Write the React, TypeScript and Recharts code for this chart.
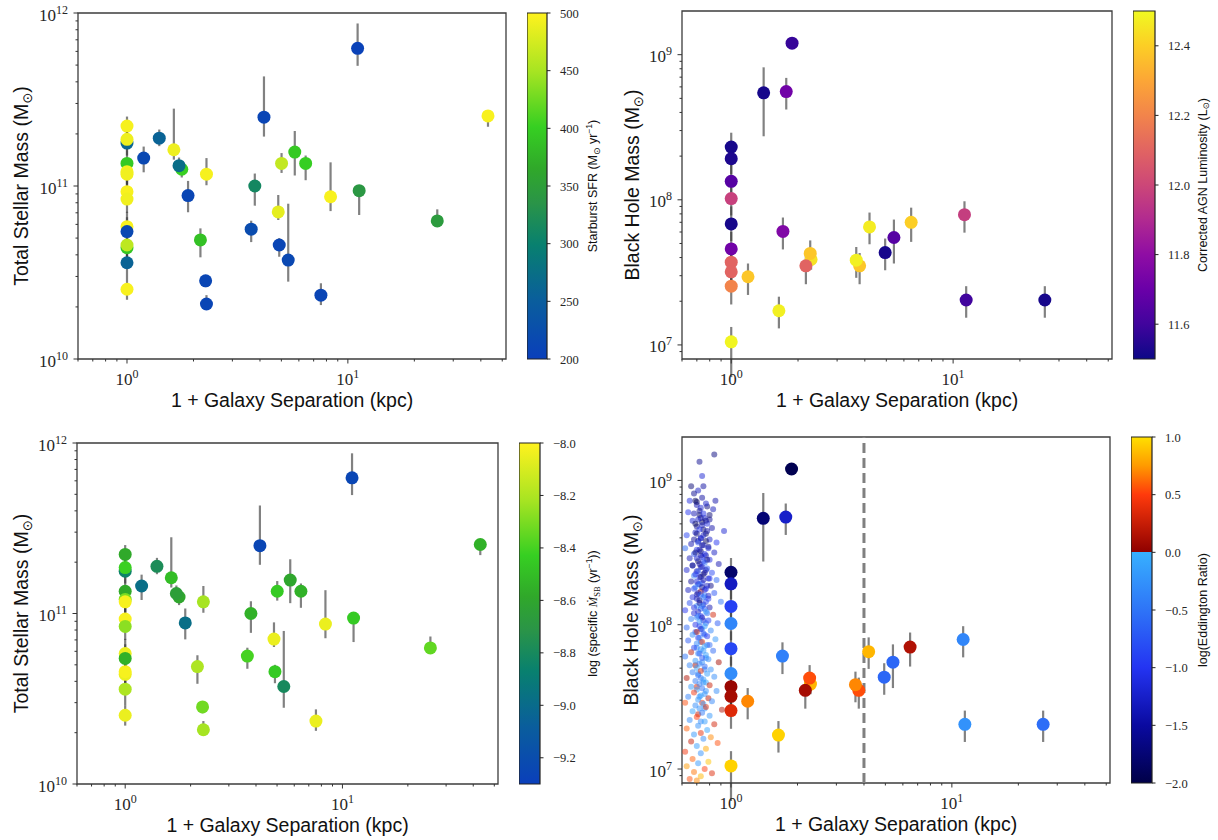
import React from "react"
import {
  ScatterChart,
  Scatter,
  XAxis,
  YAxis,
  ErrorBar,
  ReferenceArea,
  ReferenceLine,
} from "recharts"

// ---------- merging hosts: 1 + projected separation (kpc) and stellar mass ----------
const sepKpc = [
  11.07, 4.17, 1, 1, 1, 1.4, 1.19, 1.63, 1, 1, 1, 1.77, 1.72, 2.29, 1, 1, 1.89, 3.79, 5.01, 5.75,
  6.44, 8.35, 11.25, 4.84, 1, 1, 1, 1, 1, 1, 2.15, 2.27, 2.29, 3.65, 4.89, 5.37, 7.55, 25.4, 43.1,
]
const stellarMass = [
  6.25e11, 2.5e11, 2.22e11, 1.77e11, 1.86e11, 1.89e11, 1.45e11, 1.62e11, 1.35e11, 1.21e11, 1.17e11,
  1.25e11, 1.31e11, 1.17e11, 9.27e10, 8.4e10, 8.8e10, 1.0e11, 1.35e11, 1.57e11, 1.35e11, 8.67e10,
  9.4e10, 7.08e10, 5.82e10, 5.45e10, 4.4e10, 4.56e10, 3.6e10, 2.53e10, 4.88e10, 2.83e10, 2.08e10,
  5.63e10, 4.56e10, 3.73e10, 2.34e10, 6.28e10, 2.54e11,
]
const stellarMassLo = [
  4.95e11, 1.93e11, 1.95e11, 1.5e11, 1.6e11, 1.7e11, 1.2e11, 1.42e11, 1.15e11, 1.02e11, 0.98e11,
  1.12e11, 1.2e11, 1.01e11, 7.8e10, 7.0e10, 7.05e10, 7.7e10, 1.19e11, 1.15e11, 1.08e11, 7.16e10,
  6.8e10, 6.36e10, 4.9e10, 4.5e10, 3.7e10, 3.8e10, 2.9e10, 2.2e10, 3.87e10, 2.6e10, 1.95e10,
  4.74e10, 3.9e10, 2.8e10, 2.05e10, 6.28e10, 2.2e11,
]
const stellarMassHi = [
  8.7e11, 4.3e11, 2.52e11, 2.05e11, 2.15e11, 2.12e11, 1.69e11, 2.8e11, 1.6e11, 1.42e11, 1.38e11,
  1.38e11, 1.46e11, 1.45e11, 1.1e11, 1.0e11, 1.07e11, 1.18e11, 1.55e11, 2.08e11, 1.5e11, 1.37e11,
  1.0e11, 8.87e10, 7.1e10, 6.6e10, 5.2e10, 5.4e10, 4.3e10, 2.9e10, 5.69e10, 3.05e10, 2.34e10,
  6.3e10, 5.0e10, 7.9e10, 2.74e10, 7.33e10, 2.54e11,
]
// starburst SFR (Msun/yr)
const starburstSfr = [
  205, 210, 495, 262, 490, 258, 215, 490, 395, 495, 492, 402, 272, 495, 496, 492, 212, 312, 465, 395,
  400, 496, 340, 485, 496, 215, 392, 462, 258, 496, 388, 212, 210, 222, 210, 215, 210, 345, 496,
]
// log specific starburst mass growth (1/yr)
const specificSfr = [
  -9.25, -9.25, -8.58, -8.85, -8.42, -8.78, -8.98, -8.5, -8.58, -8.3, -8.02, -8.6, -8.65, -8.22,
  -8.02, -8.27, -8.98, -8.55, -8.45, -8.6, -8.55, -8.05, -8.45, -8.05, -8.05, -8.55, -8.05, -8.02,
  -8.2, -8.05, -8.2, -8.32, -8.22, -8.4, -8.45, -8.8, -8.05, -8.35, -8.55,
]

// ---------- black holes in the same systems ----------
const bhSep = [
  1.88, 1.4, 1.77, 1, 1, 1, 1, 1, 1, 1, 1, 1, 1, 1.19, 1.64, 1.71, 2.29, 2.27, 2.17, 3.79, 3.66, 4.2,
  4.94, 5.41, 6.47, 11.25, 11.45, 25.9,
]
const bhMass = [
  1.2e9, 5.46e8, 5.57e8, 2.31e8, 1.92e8, 1.34e8, 1.02e8, 6.82e7, 4.59e7, 3.72e7, 3.19e7, 2.54e7,
  1.05e7, 2.95e7, 1.72e7, 6.06e7, 3.88e7, 4.27e7, 3.51e7, 3.51e7, 3.84e7, 6.5e7, 4.33e7, 5.5e7, 7.0e7,
  7.9e7, 2.04e7, 2.04e7,
]
const bhMassLo = [
  1.2e9, 2.74e8, 4.19e8, 1.85e8, 1.5e8, 1.02e8, 7.8e7, 5.2e7, 3.5e7, 2.8e7, 2.4e7, 1.9e7, 6.0e6,
  2.21e7, 1.3e7, 4.55e7, 3.3e7, 3.5e7, 2.62e7, 2.62e7, 2.9e7, 4.94e7, 3.27e7, 3.64e7, 5.13e7, 5.94e7,
  1.54e7, 1.54e7,
]
const bhMassHi = [
  1.2e9, 8.18e8, 6.92e8, 2.9e8, 2.45e8, 1.75e8, 1.35e8, 9.0e7, 6.0e7, 4.9e7, 4.2e7, 3.4e7, 1.33e7,
  3.64e7, 2.15e7, 7.55e7, 4.4e7, 5.25e7, 4.27e7, 4.3e7, 4.73e7, 8.17e7, 5.41e7, 7.31e7, 8.83e7, 9.77e7,
  2.54e7, 2.54e7,
]
// log corrected AGN luminosity (Lsun)
const agnLum = [
  11.58, 11.52, 11.72, 11.52, 11.53, 11.65, 11.98, 11.52, 11.72, 12.1, 12.1, 12.2, 12.49, 12.38,
  12.48, 11.76, 12.45, 12.38, 12.1, 12.38, 12.48, 12.47, 11.52, 11.65, 12.4, 11.97, 11.6, 11.52,
]
const eddRatio = [
  -1.95, -1.75, -1.25, -1.8, -1.3, -0.9, -0.35, -0.85, -0.3, 0.05, 0.1, 0.35, 0.95, 0.7, 0.95, -0.4,
  0.85, 0.55, 0.1, 0.55, 0.7, 0.85, -0.6, -0.6, 0.15, -0.35, -0.25, -0.55,
]

// comparison AGN sample, drawn left of 1 kpc: [1 + sep, log M_BH, log Eddington ratio]
const fieldHigh: [number, number, number][] = [
  [0.84, 9.18, -1.7], [0.72, 9.13, -1.6], [0.74, 9.03, -1.2], [0.66, 8.96, -1.75], [0.75, 8.96, -1.5],
  [0.71, 8.93, -1.3], [0.68, 8.91, -1.6], [0.65, 8.86, -1.1], [0.69, 8.86, -1.9], [0.85, 8.86, -1.45],
  [0.7, 8.83, -1.4], [0.78, 8.82, -1.7], [0.73, 8.81, -1.2], [0.83, 8.8, -1.35], [0.64, 8.78, -1.0],
  [0.72, 8.76, -1.8], [0.76, 8.74, -1.3], [0.8, 8.73, -1.55], [0.67, 8.72, -1.15], [0.74, 8.71, -1.9],
  [0.78, 8.7, -1.1], [0.7, 8.68, -1.6], [0.82, 8.67, -1.45], [0.75, 8.66, -1.75], [0.93, 8.65, -1.2],
  [0.69, 8.64, -1.3], [0.77, 8.63, -1.85], [0.63, 8.62, -0.9], [0.73, 8.6, -1.5], [0.8, 8.59, -1.25],
  [0.71, 8.58, -1.65], [0.86, 8.57, -1.0], [0.66, 8.56, -1.4], [0.75, 8.55, -1.2], [0.79, 8.54, -1.7],
  [0.62, 8.53, -0.6], [0.7, 8.52, -1.05], [0.73, 8.51, -1.8], [0.84, 8.5, -1.3], [0.68, 8.49, -0.8],
  [0.77, 8.48, -1.5], [0.74, 8.47, -0.95], [0.65, 8.46, -1.35], [0.8, 8.45, -1.1], [0.71, 8.44, -1.9],
  [0.76, 8.43, -0.5], [0.88, 8.42, -1.4], [0.67, 8.41, -1.0], [0.73, 8.4, -1.6], [0.78, 8.39, -0.7],
  [0.63, 8.38, -1.2], [0.7, 8.37, -1.45], [0.82, 8.36, -0.85], [0.75, 8.35, -1.75], [0.68, 8.34, -0.4],
  [0.72, 8.33, -1.1], [0.79, 8.32, -1.3], [0.86, 8.31, -0.6], [0.66, 8.3, -1.55], [0.74, 8.29, -0.9],
  [0.71, 8.28, -1.2], [0.81, 8.27, -1.65], [0.69, 8.26, -0.35], [0.77, 8.25, -1.0], [0.64, 8.24, -1.3],
  [0.73, 8.23, 0.2], [0.84, 8.22, -0.75], [0.7, 8.21, -1.5], [0.76, 8.2, -0.45], [0.67, 8.19, -1.1],
  [0.79, 8.18, -0.95], [0.72, 8.17, -1.7], [0.9, 8.16, -0.5], [0.65, 8.15, -0.8], [0.75, 8.14, -1.25],
  [0.7, 8.13, -0.3], [0.8, 8.12, -1.4], [0.73, 8.11, -0.65], [0.62, 8.1, -1.0],
]
// the crowded core of the comparison sample
const fieldCore: [number, number, number][] = [
  [0.74, 8.88, -1.5], [0.7, 8.85, -1.85], [0.77, 8.84, -1.25], [0.72, 8.79, -1.6], [0.68, 8.77, -1.4],
  [0.75, 8.77, -1.05], [0.8, 8.76, -1.75], [0.73, 8.74, -1.5], [0.71, 8.73, -1.25], [0.77, 8.72, -1.6],
  [0.69, 8.7, -1.9], [0.74, 8.69, -1.35], [0.72, 8.66, -1.0], [0.78, 8.65, -1.45], [0.7, 8.63, -1.7],
  [0.75, 8.62, -1.3], [0.73, 8.6, -1.15], [0.68, 8.59, -1.55], [0.77, 8.58, -1.85], [0.71, 8.57, -0.85],
  [0.74, 8.55, -1.6], [0.79, 8.53, -1.2], [0.72, 8.52, -1.4], [0.69, 8.5, -1.75], [0.76, 8.49, -1.05],
  [0.73, 8.48, -1.5], [0.7, 8.46, -1.25], [0.78, 8.45, -1.65], [0.75, 8.44, -0.9], [0.72, 8.42, -1.45],
  [0.67, 8.41, -1.8], [0.74, 8.4, -1.15], [0.77, 8.38, -1.35], [0.71, 8.37, -0.75], [0.76, 8.36, -1.55],
  [0.69, 8.35, -1.05], [0.73, 8.33, -1.7], [0.8, 8.32, -0.95], [0.75, 8.31, -1.4], [0.7, 8.3, -1.2],
  [0.72, 8.28, -0.55], [0.78, 8.27, -1.3], [0.74, 8.26, -1.6], [0.68, 8.25, -0.9], [0.76, 8.24, -1.15],
  [0.71, 8.22, -1.45], [0.73, 8.21, -0.7], [0.79, 8.2, -1.25], [0.75, 8.19, -0.5], [0.7, 8.18, -1.35],
  [0.77, 8.16, -0.85], [0.72, 8.15, -1.55], [0.74, 8.13, -0.4], [0.68, 8.12, -1.1], [0.76, 8.11, -0.75],
  [0.71, 8.09, -1.3], [0.78, 8.08, -0.6], [0.73, 8.06, -0.95], [0.7, 8.05, -0.3], [0.75, 8.03, -1.15],
  [0.77, 8.01, -0.5], [0.72, 7.99, -0.85], [0.74, 7.97, -0.35], [0.69, 7.95, -0.7], [0.76, 7.93, -0.45],
  [0.71, 7.91, -1.0], [0.73, 7.88, -0.3], [0.78, 7.86, -0.65], [0.7, 7.84, -0.4], [0.75, 7.82, -0.2],
  [0.72, 7.8, -0.75], [0.77, 7.77, -0.35], [0.74, 7.74, -0.25], [0.69, 7.72, 0.1], [0.76, 7.69, -0.4],
  [0.71, 7.66, -0.2], [0.73, 7.63, -0.5], [0.75, 7.6, -0.3], [0.7, 7.57, 0.3], [0.77, 7.54, -0.25],
  [0.72, 7.5, -0.35], [0.74, 7.46, 0.4], [0.76, 7.42, -0.2], [0.71, 7.38, 0.2], [0.73, 7.33, -0.3],
]
const fieldMid: [number, number, number][] = [
  [0.77, 8.09, -0.2], [0.68, 8.08, -1.15], [0.83, 8.07, 0.3], [0.71, 8.06, -0.55], [0.74, 8.05, -1.35],
  [0.66, 8.04, -0.4], [0.79, 8.03, -0.9], [0.72, 8.02, -0.25], [0.87, 8.01, -0.7], [0.69, 8.0, -1.05],
  [0.76, 7.99, -0.15], [0.63, 7.98, -0.6], [0.73, 7.97, -1.2], [0.81, 7.96, -0.35], [0.7, 7.95, 0.15],
  [0.75, 7.94, -0.8], [0.67, 7.93, -0.3], [0.78, 7.92, -1.0], [0.72, 7.91, -0.45], [0.85, 7.9, -0.2],
  [0.64, 7.89, -0.7], [0.74, 7.88, 0.4], [0.7, 7.87, -0.35], [0.8, 7.86, -0.55], [0.76, 7.85, -0.1],
  [0.68, 7.84, -0.9], [0.73, 7.83, -0.25], [0.83, 7.82, -0.6], [0.66, 7.81, 0.2], [0.71, 7.8, -0.4],
  [0.77, 7.79, -0.15], [0.62, 7.78, -0.5], [0.74, 7.77, -0.75], [0.79, 7.76, -0.3], [0.69, 7.75, -0.2],
  [0.88, 7.74, 0.1], [0.72, 7.73, -0.45], [0.65, 7.72, -0.35], [0.76, 7.71, -0.6], [0.7, 7.7, -0.1],
  [0.81, 7.69, -0.25], [0.73, 7.68, 0.35], [0.67, 7.67, -0.4], [0.78, 7.66, -0.15], [0.71, 7.65, -0.55],
  [0.84, 7.64, -0.3], [0.63, 7.63, 0.15], [0.75, 7.62, -0.2], [0.69, 7.61, -0.45], [0.77, 7.6, -0.1],
]
const fieldLow: [number, number, number][] = [
  [0.72, 7.59, -0.35], [0.8, 7.58, 0.25], [0.66, 7.57, -0.2], [0.74, 7.56, -0.5], [0.7, 7.55, -0.15],
  [0.86, 7.54, -0.3], [0.68, 7.53, 0.45], [0.76, 7.52, -0.25], [0.73, 7.51, -0.1], [0.64, 7.5, -0.4],
  [0.79, 7.49, 0.2], [0.71, 7.48, -0.2], [0.82, 7.47, -0.35], [0.62, 7.46, 0.55], [0.75, 7.45, -0.15],
  [0.69, 7.44, -0.3], [0.77, 7.43, 0.35], [0.72, 7.42, -0.25], [0.91, 7.41, 0.15], [0.67, 7.4, -0.1],
  [0.74, 7.39, -0.45], [0.8, 7.37, -0.2], [0.7, 7.36, 0.5], [0.65, 7.34, -0.3], [0.76, 7.33, -0.15],
  [0.84, 7.31, 0.3], [0.71, 7.3, -0.25], [0.63, 7.28, 0.6], [0.78, 7.27, -0.1], [0.73, 7.25, 0.4],
  [0.68, 7.24, -0.2], [0.81, 7.22, 0.7], [0.75, 7.21, -0.3], [0.66, 7.19, 0.25], [0.87, 7.18, 0.55],
  [0.7, 7.16, -0.15], [0.77, 7.14, 0.8], [0.62, 7.12, 0.45], [0.73, 7.11, -0.25], [0.67, 7.07, 0.6],
  [0.79, 7.05, 0.9], [0.71, 7.04, -0.2], [0.63, 7.02, 0.75], [0.76, 7.0, 0.5], [0.68, 6.98, 0.65],
  [0.82, 6.97, 0.35], [0.73, 6.95, 0.85], [0.65, 6.93, 0.55], [0.7, 6.92, 0.7],
]

// ---------- axes ----------
const SEP_DOMAIN: [number, number] = [0.6, 52]
const STELLAR_DOMAIN: [number, number] = [1e10, 1e12]
const BH_DOMAIN: [number, number] = [8e6, 2e9]
const sepTicks = [0.6, 0.7, 0.8, 0.9, 1, 2, 3, 4, 5, 6, 7, 8, 9, 10, 20, 30, 40, 50]
const stellarTicks = [
  1e10, 2e10, 3e10, 4e10, 5e10, 6e10, 7e10, 8e10, 9e10,
  1e11, 2e11, 3e11, 4e11, 5e11, 6e11, 7e11, 8e11, 9e11, 1e12,
]
const bhTicks = [
  9e6, 1e7, 2e7, 3e7, 4e7, 5e7, 6e7, 7e7, 8e7, 9e7,
  1e8, 2e8, 3e8, 4e8, 5e8, 6e8, 7e8, 8e8, 9e8, 1e9,
]
const sfrTicks = [200, 250, 300, 350, 400, 450, 500]
const lumTicks = [11.6, 11.8, 12.0, 12.2, 12.4]
const ssfrTicks = [-9.2, -9.0, -8.8, -8.6, -8.4, -8.2, -8.0]
const eddTicks = [-2, -1.5, -1, -0.5, 0, 0.5, 1]
const SEP_CUT = 4

// ---------- colour maps ----------
type Stop = [number, string]
const SB_MAP: Stop[] = [
  [0, "#0a3fbb"], [0.17, "#0a5e9c"], [0.33, "#08806f"], [0.45, "#2a9448"],
  [0.55, "#30a82a"], [0.67, "#36cf22"], [0.83, "#a6e422"], [1, "#fff21e"],
]
const PLASMA: Stop[] = [
  [0, "#0d0887"], [0.1, "#41049d"], [0.2, "#6a00a8"], [0.3, "#8f0da4"], [0.4, "#b12a90"],
  [0.5, "#cc4778"], [0.6, "#e16462"], [0.7, "#f2844b"], [0.8, "#fca636"], [0.9, "#fcce25"],
  [1, "#f0f921"],
]
const EDD_MAP: Stop[] = [
  [0, "#000048"], [1 / 6, "#0a0aa0"], [2 / 6, "#2434f2"], [0.5, "#2e74f7"], [2 / 3, "#37b0ff"],
  [2 / 3, "#8e0000"], [5 / 6, "#ff3a0c"], [11 / 12, "#ff9a00"], [1, "#ffe000"],
]

function hexToRgb(h: string) {
  const n = parseInt(h.slice(1), 16)
  return [(n >> 16) & 255, (n >> 8) & 255, n & 255]
}

function sampleMap(stops: Stop[], t: number) {
  const f = Math.min(1, Math.max(0, t))
  for (let i = 0; i < stops.length - 1; i++) {
    const [o0, c0] = stops[i]
    const [o1, c1] = stops[i + 1]
    if (f <= o1) {
      const k = o1 === o0 ? 0 : (f - o0) / (o1 - o0)
      const a = hexToRgb(c0)
      const b = hexToRgb(c1)
      const mix = a.map((v, j) => Math.round(v + (b[j] - v) * k))
      return `rgb(${mix[0]},${mix[1]},${mix[2]})`
    }
  }
  return stops[stops.length - 1][1]
}

const norm = (v: number, [lo, hi]: [number, number]) => (v - lo) / (hi - lo)
const SFR_RANGE: [number, number] = [200, 500]
const LUM_RANGE: [number, number] = [11.5, 12.5]
const SSFR_RANGE: [number, number] = [-9.3, -8.0]
const EDD_RANGE: [number, number] = [-2, 1]

// ---------- tables for the library ----------
const hosts = sepKpc.map((x, i) => ({
  x,
  y: stellarMass[i],
  err: [stellarMass[i] - stellarMassLo[i], stellarMassHi[i] - stellarMass[i]],
}))
const hostsBySfr = hosts.map((d, i) => ({ ...d, color: sampleMap(SB_MAP, norm(starburstSfr[i], SFR_RANGE)) }))
const hostsBySsfr = hosts.map((d, i) => ({ ...d, color: sampleMap(SB_MAP, norm(specificSfr[i], SSFR_RANGE)) }))

const holes = bhSep.map((x, i) => ({
  x,
  y: bhMass[i],
  err: [bhMass[i] - bhMassLo[i], bhMassHi[i] - bhMass[i]],
}))
const holesByLum = holes.map((d, i) => ({ ...d, color: sampleMap(PLASMA, norm(agnLum[i], LUM_RANGE)) }))
const holesByEdd = holes.map((d, i) => ({ ...d, color: sampleMap(EDD_MAP, norm(eddRatio[i], EDD_RANGE)) }))

const fieldAgn = [...fieldHigh, ...fieldCore, ...fieldMid, ...fieldLow].map(([x, logM, edd]) => ({
  x,
  y: 10 ** logM,
  color: sampleMap(EDD_MAP, norm(edd, EDD_RANGE)),
}))

// ---------- layout ----------
type Box = { left: number; top: number; width: number; height: number }
const PANEL: Record<string, Box> = {
  tl: { left: 78, top: 13, width: 428, height: 346 },
  tr: { left: 682, top: 11, width: 430, height: 348 },
  bl: { left: 77, top: 443, width: 421, height: 341 },
  br: { left: 682, top: 437, width: 428, height: 346 },
}
const CBAR: Record<string, Box> = {
  tl: { left: 527, top: 13, width: 20, height: 346 },
  tr: { left: 1133, top: 11, width: 22, height: 348 },
  bl: { left: 519, top: 443, width: 21, height: 341 },
  br: { left: 1131, top: 437, width: 21, height: 346 },
}
const PAD = 10
const AXIS_W = 80
const AXIS_H = 60
const CB_AXIS_W = 70

const SERIF = '"Liberation Serif", "DejaVu Serif", serif'
const SANS = '"Liberation Sans", Arial, Helvetica, sans-serif'
const INK = "#262626"

const isDecade = (v: number) => {
  const e = Math.log10(v)
  return Math.abs(e - Math.round(e)) < 1e-6
}

function SepTick(props: any) {
  const { x, y, payload } = props
  const major = isDecade(payload.value)
  return (
    <g>
      <line x1={x} x2={x} y1={y} y2={y + (major ? 4.5 : 2.5)} stroke="#333" strokeWidth={1} />
      {major && (
        <text x={x} y={y + 26} textAnchor="middle" fontFamily={SERIF} fontSize={17} fill={INK}>
          10
          <tspan dy={-7} fontSize={12}>
            {Math.round(Math.log10(payload.value))}
          </tspan>
        </text>
      )}
    </g>
  )
}

function MassTick(props: any) {
  const { x, y, payload } = props
  const major = isDecade(payload.value)
  return (
    <g>
      <line x1={x - (major ? 4.5 : 2.5)} x2={x} y1={y} y2={y} stroke="#333" strokeWidth={1} />
      {major && (
        <text x={x - 10} y={y + 7.5} textAnchor="end" fontFamily={SERIF} fontSize={17} fill={INK}>
          10
          <tspan dy={-7} fontSize={12}>
            {Math.round(Math.log10(payload.value))}
          </tspan>
        </text>
      )}
    </g>
  )
}

const fmtTick = (v: number, digits: number) => (v < 0 ? "\u2212" : "") + Math.abs(v).toFixed(digits)

const dot = (r: number, opacity = 1) => (props: any) =>
  props.cx == null || !props.payload?.color ? <g /> : (
    <circle cx={props.cx} cy={props.cy} r={r} fill={props.payload.color} fillOpacity={opacity} />
  )

function SeparationPanel({
  box,
  yDomain,
  yTicks,
  children,
}: {
  box: Box
  yDomain: [number, number]
  yTicks: number[]
  children: React.ReactNode
}) {
  return (
    <div style={{ position: "absolute", left: box.left - AXIS_W, top: box.top - PAD }}>
      <ScatterChart
        width={AXIS_W + box.width + PAD}
        height={PAD + box.height + AXIS_H}
        margin={{ top: PAD, right: PAD, bottom: 0, left: 0 }}
      >
        <XAxis
          type="number"
          dataKey="x"
          scale="log"
          domain={SEP_DOMAIN}
          allowDataOverflow
          ticks={sepTicks}
          interval={0}
          tick={(p: any) => <SepTick {...p} />}
          tickSize={0}
          tickMargin={0}
          tickLine={false}
          axisLine={false}
          height={AXIS_H}
        />
        <YAxis
          type="number"
          dataKey="y"
          scale="log"
          domain={yDomain}
          allowDataOverflow
          ticks={yTicks}
          interval={0}
          tick={(p: any) => <MassTick {...p} />}
          tickSize={0}
          tickMargin={0}
          tickLine={false}
          axisLine={false}
          width={AXIS_W}
        />
        {children}
        <ReferenceArea
          x1={SEP_DOMAIN[0]}
          x2={SEP_DOMAIN[1]}
          y1={yDomain[0]}
          y2={yDomain[1]}
          fill="none"
          stroke="#3c3c3c"
          strokeWidth={1.3}
          ifOverflow="visible"
        />
      </ScatterChart>
    </div>
  )
}

function Colorbar({
  box,
  id,
  stops,
  domain,
  ticks,
  digits,
}: {
  box: Box
  id: string
  stops: Stop[]
  domain: [number, number]
  ticks: number[]
  digits: number
}) {
  // the two ends of the bar, so the chart has a series to lay out against
  const ends = [
    { x: 0, y: domain[0] },
    { x: 1, y: domain[1] },
  ]
  return (
    <div style={{ position: "absolute", left: box.left, top: box.top - PAD }}>
      <ScatterChart
        width={box.width + CB_AXIS_W}
        height={box.height + 2 * PAD}
        margin={{ top: PAD, bottom: PAD, left: 0, right: 0 }}
      >
        <defs>
          <linearGradient id={id} x1="0" y1="1" x2="0" y2="0">
            {stops.map(([o, c], i) => (
              <stop key={i} offset={o} stopColor={c} />
            ))}
          </linearGradient>
        </defs>
        <XAxis type="number" dataKey="x" domain={[0, 1]} allowDataOverflow hide />
        <YAxis
          type="number"
          dataKey="y"
          orientation="right"
          domain={domain}
          allowDataOverflow
          ticks={ticks}
          interval={0}
          tickSize={0}
          tickMargin={0}
          tickLine={false}
          axisLine={false}
          width={CB_AXIS_W}
          tick={(p: any) => (
            <g>
              <line x1={p.x} x2={p.x + 3.5} y1={p.y} y2={p.y} stroke="#222" />
              <text x={p.x + 13} y={p.y + 4.5} fontFamily={SERIF} fontSize={12.5} fill={INK}>
                {fmtTick(p.payload.value, digits)}
              </text>
            </g>
          )}
        />
        <Scatter data={ends} shape={() => <g />} isAnimationActive={false} />
        <ReferenceArea
          x1={0}
          x2={1}
          y1={domain[0]}
          y2={domain[1]}
          fill={`url(#${id})`}
          fillOpacity={1}
          stroke="#222"
          strokeWidth={1.2}
          ifOverflow="visible"
        />
      </ScatterChart>
    </div>
  )
}

const errorBar = (
  <ErrorBar dataKey="err" direction="y" width={0} stroke="#333" strokeOpacity={0.62} strokeWidth={2.2} />
)

// rotated colorbar / y-axis title centred on (cx, cy)
function VTitle({ cx, cy, size, children }: { cx: number; cy: number; size: number; children: React.ReactNode }) {
  return (
    <text
      transform={`translate(${cx + size * 0.36} ${cy}) rotate(-90)`}
      textAnchor="middle"
      fontFamily={SANS}
      fontSize={size}
      fill="#111"
    >
      {children}
    </text>
  )
}

function XTitle({ box }: { box: Box }) {
  return (
    <text
      x={box.left + box.width / 2}
      y={box.top + box.height + 48}
      textAnchor="middle"
      fontFamily={SANS}
      fontSize={19.5}
      fill="#111"
    >
      1 + Galaxy Separation (kpc)
    </text>
  )
}

const Sun = ({ size }: { size: number }) => (
  <>
    <tspan dy={size * 0.22} fontSize={size * 0.68} fontFamily='"DejaVu Sans", sans-serif'>
      ⊙
    </tspan>
    <tspan dy={-size * 0.22}>)</tspan>
  </>
)

function Titles() {
  const yT = 19.5
  const cbT = 12.5
  return (
    <svg
      width={1218}
      height={840}
      style={{ position: "absolute", left: 0, top: 0, pointerEvents: "none" }}
    >
      <XTitle box={PANEL.tl} />
      <XTitle box={PANEL.tr} />
      <XTitle box={PANEL.bl} />
      <XTitle box={PANEL.br} />

      <VTitle cx={21} cy={PANEL.tl.top + PANEL.tl.height / 2} size={yT}>
        Total Stellar Mass (M<Sun size={yT} />
      </VTitle>
      <VTitle cx={632} cy={PANEL.tr.top + PANEL.tr.height / 2} size={yT}>
        Black Hole Mass (M<Sun size={yT} />
      </VTitle>
      <VTitle cx={21} cy={PANEL.bl.top + PANEL.bl.height / 2} size={yT}>
        Total Stellar Mass (M<Sun size={yT} />
      </VTitle>
      <VTitle cx={631} cy={PANEL.br.top + PANEL.br.height / 2} size={yT}>
        Black Hole Mass (M<Sun size={yT} />
      </VTitle>

      <VTitle cx={592} cy={CBAR.tl.top + CBAR.tl.height / 2} size={cbT}>
        Starburst SFR (M
        <tspan dy={3} fontSize={9} fontFamily='"DejaVu Sans", sans-serif'>
          ⊙
        </tspan>
        <tspan dy={-3}> yr</tspan>
        <tspan dy={-5} fontSize={8.5}>
          {"\u22121"}
        </tspan>
        <tspan dy={5}>)</tspan>
      </VTitle>
      <VTitle cx={1202} cy={CBAR.tr.top + CBAR.tr.height / 2} size={cbT}>
        Corrected AGN Luminosity (L
        <Sun size={cbT} />
      </VTitle>
      <VTitle cx={592} cy={CBAR.bl.top + CBAR.bl.height / 2} size={cbT}>
        {"log (specific "}
        <tspan fontFamily={SERIF} fontStyle="italic">
          {"\u1E40"}
        </tspan>
        <tspan dy={3} fontSize={8.5} fontFamily={SERIF}>
          SB
        </tspan>
        <tspan dy={-3}>{" (yr"}</tspan>
        <tspan dy={-5} fontSize={8.5}>
          {"\u22121"}
        </tspan>
        <tspan dy={5}>))</tspan>
      </VTitle>
      <VTitle cx={1202} cy={CBAR.br.top + CBAR.br.height / 2} size={cbT}>
        log(Eddington Ratio)
      </VTitle>
    </svg>
  )
}

export default function App() {
  return (
    <div
      style={{
        position: "absolute",
        left: 0,
        top: 0,
        width: 1218,
        height: 840,
        background: "#fff",
        overflow: "hidden",
      }}
    >
      {/* stellar mass coloured by starburst SFR */}
      <SeparationPanel box={PANEL.tl} yDomain={STELLAR_DOMAIN} yTicks={stellarTicks}>
        <Scatter data={hostsBySfr} shape={dot(6.5)} isAnimationActive={false}>
          {errorBar}
        </Scatter>
      </SeparationPanel>
      <Colorbar box={CBAR.tl} id="cb-sfr" stops={SB_MAP} domain={SFR_RANGE} ticks={sfrTicks} digits={0} />

      {/* black hole mass coloured by AGN luminosity */}
      <SeparationPanel box={PANEL.tr} yDomain={BH_DOMAIN} yTicks={bhTicks}>
        <Scatter data={holesByLum} shape={dot(6.5)} isAnimationActive={false}>
          {errorBar}
        </Scatter>
      </SeparationPanel>
      <Colorbar box={CBAR.tr} id="cb-lum" stops={PLASMA} domain={LUM_RANGE} ticks={lumTicks} digits={1} />

      {/* stellar mass coloured by specific starburst growth */}
      <SeparationPanel box={PANEL.bl} yDomain={STELLAR_DOMAIN} yTicks={stellarTicks}>
        <Scatter data={hostsBySsfr} shape={dot(6.5)} isAnimationActive={false}>
          {errorBar}
        </Scatter>
      </SeparationPanel>
      <Colorbar box={CBAR.bl} id="cb-ssfr" stops={SB_MAP} domain={SSFR_RANGE} ticks={ssfrTicks} digits={1} />

      {/* black hole mass coloured by Eddington ratio, with the field sample */}
      <SeparationPanel box={PANEL.br} yDomain={BH_DOMAIN} yTicks={bhTicks}>
        <Scatter data={fieldAgn} shape={dot(3, 0.5)} isAnimationActive={false} />
        <Scatter data={holesByEdd} shape={dot(6.5)} isAnimationActive={false}>
          {errorBar}
        </Scatter>
        <ReferenceLine
          x={SEP_CUT}
          stroke="#808080"
          strokeWidth={3}
          strokeDasharray="10 5"
          ifOverflow="visible"
        />
      </SeparationPanel>
      <Colorbar box={CBAR.br} id="cb-edd" stops={EDD_MAP} domain={EDD_RANGE} ticks={eddTicks} digits={1} />

      <Titles />
    </div>
  )
}
